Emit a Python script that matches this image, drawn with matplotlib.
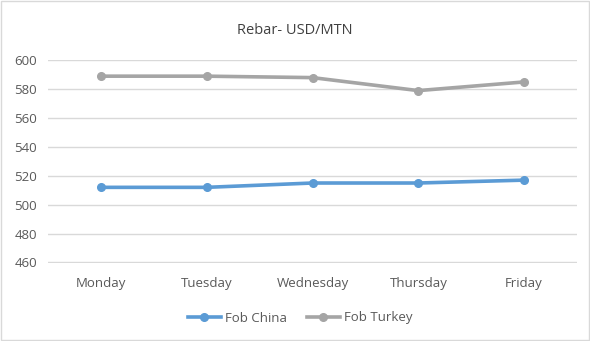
import matplotlib.pyplot as plt
import numpy as np

days = ['Monday', 'Tuesday', 'Wednesday', 'Thursday', 'Friday']
fob_china = [512, 512, 515, 515, 517]
fob_turkey = [589, 589, 588, 579, 585]

plt.rcParams['font.family'] = ['Open Sans', 'DejaVu Sans']

fig = plt.figure(figsize=(5.9, 3.41), dpi=100)
ax = fig.add_axes([48 / 590, 1 - 263 / 341, 529 / 590, 203 / 341])

x = np.arange(len(days))
ax.plot(x, fob_china, color='#5B9BD5', lw=2.6, marker='o', ms=5.5, label='Fob China')
ax.plot(x, fob_turkey, color='#A5A5A5', lw=2.6, marker='o', ms=5.5, label='Fob Turkey')

ax.set_xlim(-0.5, 4.5)
ax.set_ylim(459.6, 600.2)
ax.set_yticks(np.arange(460, 601, 20))
ax.set_xticks(x)
ax.set_xticklabels(days)
ax.grid(axis='y', color='#D9D9D9', lw=1)
ax.set_axisbelow(True)
for s in ax.spines.values():
    s.set_visible(False)
ax.tick_params(length=0, labelsize=9.5, labelcolor='#595959')
ax.tick_params(axis='x', pad=10)
ax.tick_params(axis='y', pad=8)

fig.text(295 / 590, 1 - 30 / 341, 'Rebar- USD/MTN', ha='center', va='center',
         fontsize=10.5, color='#404040')
fig.legend(loc='center', bbox_to_anchor=(300 / 590, 1 - 318 / 341), ncol=2, frameon=False,
           fontsize=9.5, labelcolor='#595959', handlelength=2.5, columnspacing=1.5,
           handletextpad=0.3)

# light frame like the excel chart area
fig.patches.append(plt.Rectangle((0.002, 0.002), 0.996, 0.996, transform=fig.transFigure,
                                 fill=False, edgecolor='#D9D9D9', lw=1))

fig.savefig('out.png', dpi=100)
